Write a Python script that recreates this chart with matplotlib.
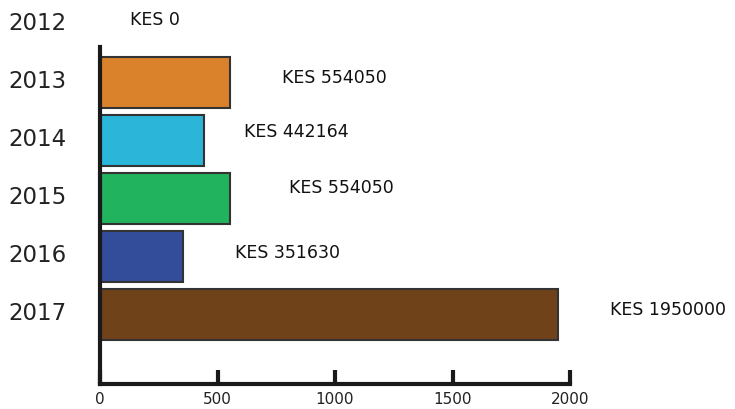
import matplotlib
matplotlib.use("Agg")
import matplotlib.pyplot as plt
import matplotlib.transforms as mtransforms

years = ["2012", "2013", "2014", "2015", "2016", "2017"]
values = [0, 554.05, 442.164, 554.05, 351.63, 1950.0]
labels = ["KES 0", "KES 554050", "KES 442164", "KES 554050", "KES 351630", "KES 1950000"]
colors = ["#FFFFFF", "#D9822B", "#2BB5D8", "#22B35E", "#334D9B", "#6F421A"]
xticks = [0, 500, 1000, 1500, 2000]

# label offsets (pixels) from the bar end
label_dx = [30, 52, 40, 59, 52, 52]
label_dy = [6, 6, 10, 12, 5, 6]

fig = plt.figure(figsize=(7.35, 4.1), dpi=100)
ax = fig.add_axes([100/735, 1-385/410, 470/735, (385-48)/410])

for i, (v, c) in enumerate(zip(values, colors)):
    if v > 0:
        ax.barh(i, v, height=0.88, color=c, edgecolor="#333333", linewidth=1.5, zorder=2)

ax.set_xlim(0, 2000)
ax.set_ylim(6.19, 0.38)

for s in ["top", "right"]:
    ax.spines[s].set_visible(False)
for s in ["left", "bottom"]:
    ax.spines[s].set_linewidth(3)
    ax.spines[s].set_color("#1a1a1a")
    ax.spines[s].set_zorder(3)

ax.set_yticks([])
ax.set_xticks(xticks)
ax.set_xticklabels([str(t) for t in xticks], fontsize=11, color="#222222")
ax.tick_params(axis="x", direction="in", length=10, width=3, color="#1a1a1a", pad=5)

trans = mtransforms.blended_transform_factory(fig.transFigure, ax.transData)
for i, y in enumerate(years):
    ax.text(37/735, i - 0.05, y, transform=trans, ha="center", va="center",
            fontsize=16.5, color="#222222", clip_on=False)

for i, (v, lab) in enumerate(zip(values, labels)):
    ax.annotate(lab, xy=(v, i), xytext=(label_dx[i] * 0.72, label_dy[i] * 0.72),
                textcoords="offset points", ha="left", va="center",
                fontsize=12.5, color="#111111", annotation_clip=False)

fig.savefig("out.png", dpi=100)
